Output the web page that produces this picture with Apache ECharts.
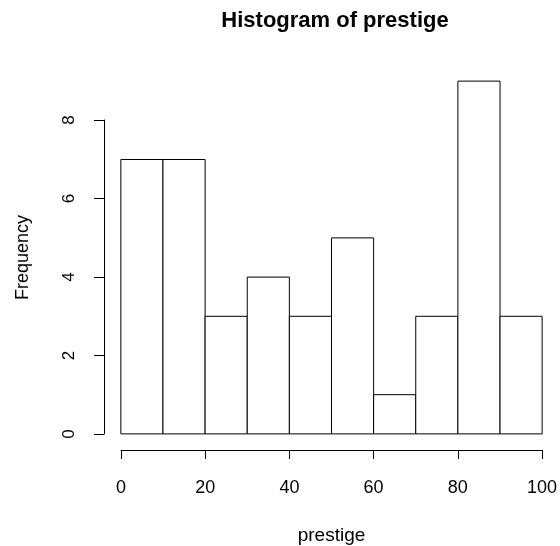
<!DOCTYPE html>
<html>
<head>
<meta charset="utf-8">
<script src="https://cdn.jsdelivr.net/npm/echarts@6/dist/echarts.min.js"></script>
<style>
  html, body { margin: 0; padding: 0; background: #fff; }
  #main { width: 560px; height: 546px; }
</style>
</head>
<body>
<div id="main"></div>
<script>
var myChart = echarts.init(document.getElementById('main'));

// histogram bins (breaks every 10) and counts
var binStart = [0, 10, 20, 30, 40, 50, 60, 70, 80, 90];
var binEnd = [10, 20, 30, 40, 50, 60, 70, 80, 90, 100];
var counts = [7, 7, 3, 4, 3, 5, 1, 3, 9, 3];
var xTicks = [0, 20, 40, 60, 80, 100];
var yTicks = [0, 2, 4, 6, 8];

var font = 'Liberation Sans, Arial, sans-serif';

var binData = [];
for (var i = 0; i < counts.length; i++) {
    binData.push([binStart[i], binEnd[i], counts[i]]);
}

option = {
    backgroundColor: '#fff',
    animation: false,
    title: {
        text: 'Histogram of prestige',
        left: 330,
        top: 5,
        textAlign: 'center',
        textStyle: {fontFamily: font, fontSize: 22, fontWeight: 'bold', color: '#000'}
    },
    grid: [
        // plot region (R usr with 4% padding)
        {left: 104, right: 1, top: 67, bottom: 98, containLabel: false, outerBoundsMode: 'none'},
        // region spanned by the tick ranges
        {left: 121, right: 18, top: 120, bottom: 112, containLabel: false, outerBoundsMode: 'none'}
    ],
    xAxis: [
        {
            gridIndex: 0, type: 'value', min: -4, max: 104,
            name: 'prestige', nameLocation: 'middle', nameGap: 78,
            nameTextStyle: {fontFamily: font, fontSize: 19, color: '#000'},
            axisLine: {show: false}, axisTick: {show: false},
            axisLabel: {show: false}, splitLine: {show: false}
        },
        {
            gridIndex: 1, type: 'value', min: 0, max: 100, interval: 20,
            position: 'bottom', offset: 16,
            axisLine: {show: true, onZero: false, lineStyle: {color: '#000', width: 1}},
            axisTick: {show: true, length: 9, lineStyle: {color: '#000'}},
            axisLabel: {
                margin: 29, fontFamily: font, fontSize: 18, color: '#000',
                formatter: function (v) { return xTicks.indexOf(v) >= 0 ? String(v) : ''; }
            },
            splitLine: {show: false}
        }
    ],
    yAxis: [
        {
            gridIndex: 0, type: 'value', min: -0.36, max: 9.36,
            name: 'Frequency', nameLocation: 'middle', nameGap: 72,
            nameTextStyle: {fontFamily: font, fontSize: 18, color: '#000'},
            axisLine: {show: false}, axisTick: {show: false},
            axisLabel: {show: false}, splitLine: {show: false}
        },
        {
            gridIndex: 1, type: 'value', min: 0, max: 8, interval: 2,
            position: 'left', offset: 17,
            axisLine: {show: true, onZero: false, lineStyle: {color: '#000', width: 1}},
            axisTick: {show: true, length: 10, lineStyle: {color: '#000'}},
            axisLabel: {
                rotate: 90, margin: 26, fontFamily: font, fontSize: 17, color: '#000',
                formatter: function (v) { return yTicks.indexOf(v) >= 0 ? String(v) : ''; }
            },
            splitLine: {show: false}
        }
    ],
    series: [
        {
            name: 'prestige',
            type: 'custom',
            xAxisIndex: 0,
            yAxisIndex: 0,
            data: binData,
            renderItem: function (params, api) {
                var p0 = api.coord([api.value(0), 0]);
                var p1 = api.coord([api.value(1), api.value(2)]);
                return {
                    type: 'rect',
                    shape: {x: p0[0], y: p1[1], width: p1[0] - p0[0], height: p0[1] - p1[1]},
                    style: {fill: '#fff', stroke: '#000', lineWidth: 1}
                };
            }
        }
    ]
};

myChart.setOption(option);
</script>
</body>
</html>
